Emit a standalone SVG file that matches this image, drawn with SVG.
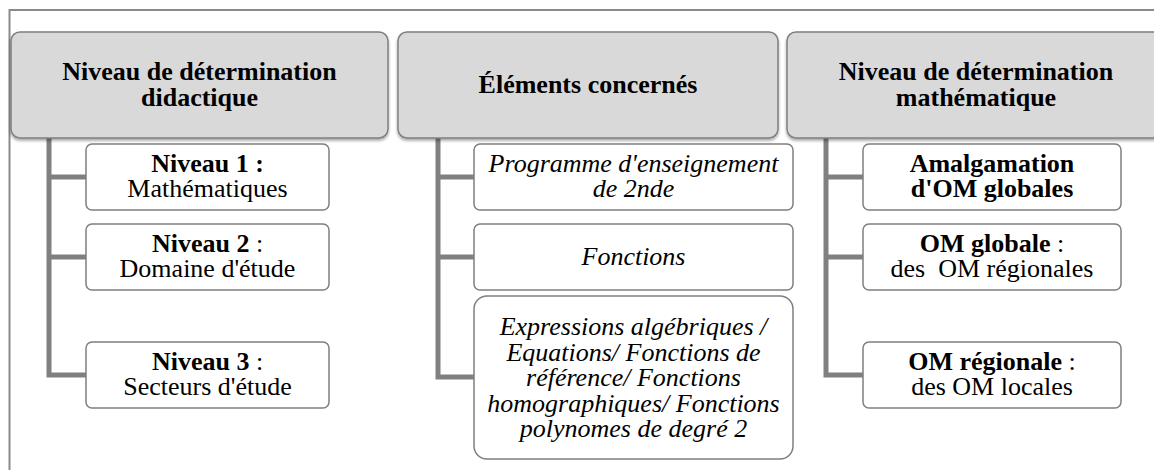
<svg xmlns="http://www.w3.org/2000/svg" width="1154" height="470" viewBox="0 0 1154 470" font-family="'Liberation Serif', 'Times New Roman', serif">
<defs>
<filter id="sh" x="-5%" y="-10%" width="110%" height="130%">
<feDropShadow dx="0" dy="2" stdDeviation="1.5" flood-color="#000" flood-opacity="0.35"/>
</filter>
<style>
.frame{fill:none;stroke:#8a8a8a;stroke-width:2}
.hdr{fill:#d9d9d9;stroke:#7f7f7f;stroke-width:1.5;filter:url(#sh)}
.box{fill:#fff;stroke:#7f7f7f;stroke-width:1.5}
.bar{fill:none;stroke:#808080;stroke-width:5;stroke-linejoin:miter}
text{font-family:'Liberation Serif','Times New Roman',serif;font-size:26px;fill:#000;text-anchor:middle}
.b{font-weight:bold}
.i{font-style:italic}
</style>
</defs>
<rect class="frame" x="9.5" y="10" width="1160" height="480"/>
<g id="connectors">
<path class="bar" d="M49 138 V375 H86 M49 177 H86 M49 257 H86"/>
<path class="bar" d="M438 138 V377 H474 M438 177 H474 M438 257 H474"/>
<path class="bar" d="M826 138 V375 H863 M826 177 H863 M826 257 H863"/>
</g>
<g id="header-didactique">
<rect class="hdr" x="11" y="32" width="377" height="106" rx="9"/>
<text class="b" x="199.5" y="79.5">Niveau de détermination</text>
<text class="b" x="199.5" y="106">didactique</text>
</g>
<g id="header-elements">
<rect class="hdr" x="398" y="32" width="380" height="106" rx="9"/>
<text class="b" x="588" y="93">Éléments concernés</text>
</g>
<g id="header-mathematique">
<rect class="hdr" x="787" y="32" width="378" height="106" rx="9"/>
<text class="b" x="976" y="79.5">Niveau de détermination</text>
<text class="b" x="976" y="106">mathématique</text>
</g>
<g id="niveau1">
<rect class="box" x="86" y="144" width="243" height="66" rx="6"/>
<text class="b" x="207.5" y="172">Niveau 1 :</text>
<text x="207.5" y="197">Mathématiques</text>
</g>
<g id="niveau2">
<rect class="box" x="86" y="224" width="243" height="66" rx="6"/>
<text x="207.5" y="252"><tspan class="b">Niveau 2</tspan> :</text>
<text x="207.5" y="277">Domaine d'étude</text>
</g>
<g id="niveau3">
<rect class="box" x="86" y="342" width="243" height="66" rx="6"/>
<text x="207.5" y="370"><tspan class="b">Niveau 3</tspan> :</text>
<text x="207.5" y="395">Secteurs d'étude</text>
</g>
<g id="programme">
<rect class="box" x="474" y="144" width="319" height="66" rx="6"/>
<text class="i" x="633.5" y="172">Programme d'enseignement</text>
<text class="i" x="633.5" y="197">de 2nde</text>
</g>
<g id="fonctions">
<rect class="box" x="474" y="224" width="319" height="66" rx="6"/>
<text class="i" x="633.5" y="265">Fonctions</text>
</g>
<g id="expressions">
<rect class="box" x="474" y="296" width="319" height="163" rx="13"/>
<text class="i" x="633.5" y="335">Expressions algébriques /</text>
<text class="i" x="633.5" y="360.5">Equations/ Fonctions de</text>
<text class="i" x="633.5" y="386">référence/ Fonctions</text>
<text class="i" x="633.5" y="411.5">homographiques/ Fonctions</text>
<text class="i" x="633.5" y="437">polynomes de degré 2</text>
</g>
<g id="amalgamation">
<rect class="box" x="863" y="144" width="258" height="66" rx="6"/>
<text class="b" x="992" y="172">Amalgamation</text>
<text class="b" x="992" y="197">d'OM globales</text>
</g>
<g id="om-globale">
<rect class="box" x="863" y="224" width="258" height="66" rx="6"/>
<text x="992" y="252"><tspan class="b">OM globale</tspan> :</text>
<text x="992" y="277" xml:space="preserve">des  OM régionales</text>
</g>
<g id="om-regionale">
<rect class="box" x="863" y="342" width="258" height="66" rx="6"/>
<text x="992" y="370"><tspan class="b">OM régionale</tspan> :</text>
<text x="992" y="395">des OM locales</text>
</g>
</svg>
